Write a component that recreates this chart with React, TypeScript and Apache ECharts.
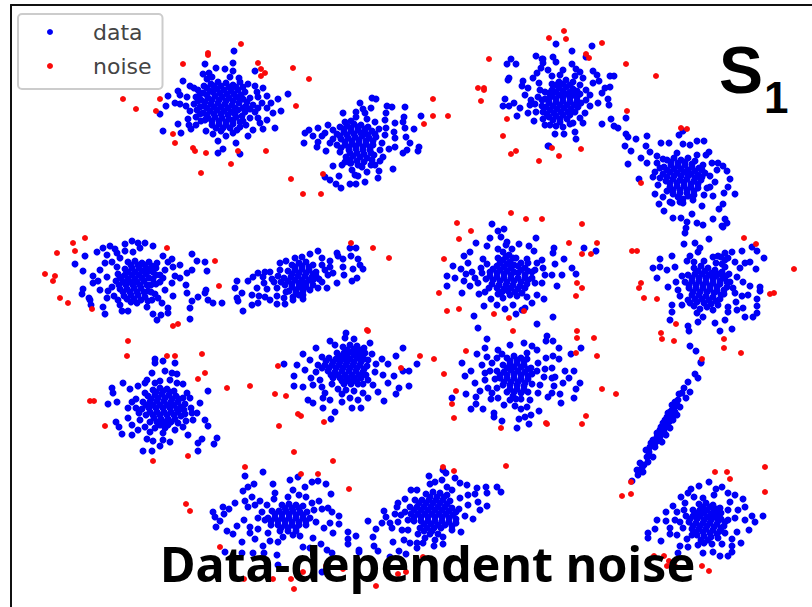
import React, { useEffect, useRef } from "react";
import * as echarts from "echarts";

type P = number[];

const clusterTopLeft: P[] = [[234,51],[233,63],[205,64],[216,68],[225,69],[233,71],[255,71],[203,74],[209,73],[239,78],[183,81],[207,79],[248,84],[255,86],[263,88],[190,86],[178,91],[168,96],[180,95],[187,97],[288,94],[278,99],[267,96],[258,97],[166,106],[175,103],[180,104],[160,114],[281,111],[273,113],[267,108],[178,124],[188,119],[163,131],[181,133],[191,129],[206,131],[213,134],[275,128],[263,129],[253,130],[248,136],[218,141],[236,143],[223,149],[218,153],[240,154],[226,136],[233,133],[260,123],[267,120],[250,118],
[198,90],[204,86],[211,84],[218,82],[226,83],[233,85],[240,82],[196,97],[203,93],[210,91],[217,89],[224,90],[231,91],[238,90],[245,92],[194,104],[201,100],[208,98],[215,96],[222,97],[229,98],[236,97],[243,99],[250,98],[197,110],[204,106],[211,104],[218,103],[225,104],[232,105],[239,103],[246,106],[253,105],[196,117],[203,113],[210,111],[217,110],[224,111],[231,112],[238,110],[245,112],[201,121],[208,118],[215,117],[222,118],[229,119],[236,117],[243,121],[212,125],[219,124],[226,125],[233,124],[240,127],[221,131]];
const fillTopLeft: P[] = [[207,88],[214,86],[221,86],[229,87],[236,87],[200,94],[207,95],[213,92],[220,93],[227,94],[234,94],[241,95],[198,101],[205,102],[212,100],[219,100],[226,101],[233,101],[240,100],[247,102],[200,107],[207,108],[214,107],[221,107],[228,108],[235,108],[243,108],[250,109],[200,114],[207,115],[214,114],[221,114],[228,115],[235,114],[242,116],[205,120],[212,121],[219,121],[226,122],[233,120],[240,122],[216,128],[223,128],[230,128],[237,130],[257,92],[262,103],[255,112],[258,118],[190,111],[186,106],[189,125],[196,125],[246,125],[258,108],[271,103],[243,87],[194,88],[212,77],[230,77]];

const clusterTopMid: P[] = [[360,103],[372,98],[376,99],[387,106],[392,107],[405,107],[363,109],[371,108],[356,112],[343,113],[386,113],[404,117],[421,116],[356,117],[345,122],[367,119],[375,122],[385,120],[403,122],[395,123],[328,125],[318,128],[309,130],[305,133],[414,129],[405,128],[394,132],[313,136],[325,133],[304,143],[318,142],[317,147],[326,151],[330,143],[340,152],[395,138],[385,135],[406,137],[410,143],[419,147],[418,151],[403,153],[407,150],[395,147],[389,149],[383,157],[380,161],[333,166],[342,165],[350,163],[393,169],[379,171],[367,172],[339,176],[355,175],[358,176],[378,178],[325,177],[330,180],[365,182],[336,184],[341,188],[350,184],[356,184],
[340,127],[347,126],[354,124],[361,125],[368,127],[337,134],[344,132],[351,131],[358,130],[365,132],[372,131],[379,129],[341,139],[348,138],[355,137],[362,136],[369,138],[376,137],[345,145],[352,144],[359,143],[366,144],[373,145],[349,150],[356,149],[363,150],[370,150],[346,157],[353,156],[360,157],[367,158],[374,155],[351,163],[358,165],[371,165]];
const fillTopMid: P[] = [[344,129],[351,128],[358,127],[365,129],[340,136],[347,135],[354,134],[361,133],[368,135],[375,134],[345,142],[352,141],[359,140],[366,141],[373,141],[349,147],[356,146],[363,147],[370,147],[350,153],[357,153],[364,154],[371,153],[350,160],[357,161],[364,162],[333,130],[337,145],[341,148],[382,143],[380,150],[345,162],[352,170],[362,167],[372,160],[333,139],[322,136],[375,165],[386,128],[365,113],[351,121]];

const clusterTopRight: P[] = [[536,56],[511,59],[542,59],[507,64],[516,64],[543,63],[541,68],[537,73],[533,78],[509,78],[508,80],[523,81],[522,86],[539,83],[528,88],[525,95],[505,99],[514,103],[503,106],[509,106],[520,108],[517,116],[528,113],[534,121],[548,146],[556,44],[592,46],[572,51],[586,57],[553,57],[543,59],[556,62],[572,64],[576,69],[593,71],[563,70],[580,72],[597,75],[610,76],[614,76],[552,76],[583,78],[599,81],[593,83],[610,87],[605,88],[602,93],[590,95],[608,99],[598,103],[609,105],[590,106],[585,113],[580,118],[573,123],[583,123],[545,125],[556,126],[563,127],[555,134],[564,134],[575,132],[576,139],[549,146],
[602,124],[611,119],[626,118],[614,126],[618,128],
[552,84],[559,82],[566,80],[573,82],[580,85],[545,92],[552,90],[559,88],[566,87],[573,89],[538,97],[545,99],[552,96],[559,95],[566,94],[573,95],[580,94],[535,104],[542,106],[549,103],[556,102],[563,101],[570,102],[577,101],[543,112],[550,110],[557,109],[564,108],[571,109],[578,107],[549,117],[556,116],[563,115],[570,115],[560,122]];
const fillTopRight: P[] = [[556,85],[563,84],[570,85],[549,93],[556,92],[563,91],[570,92],[577,91],[542,100],[549,99],[556,99],[563,97],[570,98],[577,97],[546,107],[553,106],[560,105],[567,105],[574,105],[581,103],[547,114],[554,113],[561,112],[568,112],[575,112],[553,120],[560,119],[567,119],[531,100],[586,90],[540,90],[530,105],[536,112],[575,76],[560,75],[586,100],[543,119],[550,125],[570,124],[548,70]];

const clusterRightUpper: P[] = [[626,134],[628,137],[636,139],[647,136],[625,146],[631,151],[628,164],[683,131],[679,135],[661,143],[669,143],[683,144],[690,145],[697,141],[704,141],[646,146],[650,152],[677,153],[657,156],[697,155],[709,152],[706,155],[641,158],[647,163],[657,163],[703,165],[718,163],[723,166],[727,171],[655,172],[717,170],[730,179],[715,182],[639,179],[653,177],[658,185],[728,187],[655,194],[663,197],[735,194],[724,193],[713,196],[707,188],[670,202],[680,202],[723,204],[659,204],[702,206],[719,209],[664,211],[692,214],[673,218],[681,218],[713,219],[725,219],[727,223],[687,222],[686,228],[697,223],[703,225],[723,227],[685,233],[722,226],[672,203],[683,203],
[667,160],[674,158],[681,160],[688,158],[695,161],[664,167],[671,165],[678,166],[685,165],[692,167],[699,168],[663,174],[670,172],[677,173],[684,172],[691,174],[698,175],[705,173],[666,181],[673,179],[680,180],[687,179],[694,181],[701,180],[670,187],[677,186],[684,186],[691,187],[698,188],[673,194],[680,193],[687,193],[694,195],[683,199],[693,200]];
const fillRightUpper: P[] = [[671,162],[678,163],[685,162],[692,164],[667,170],[674,169],[681,169],[688,170],[695,171],[702,170],[667,177],[674,176],[681,176],[688,176],[695,178],[702,177],[670,183],[677,183],[684,182],[691,184],[698,184],[673,190],[680,190],[687,190],[694,191],[678,197],[688,196],[660,178],[710,176],[663,159],[712,163],[704,195],[667,191],[710,187],[660,168]];

const clusterRightMid: P[] = [[684,244],[695,243],[709,239],[700,248],[698,252],[713,257],[672,256],[690,256],[687,261],[660,259],[653,268],[660,267],[667,270],[675,267],[657,278],[676,282],[668,287],[678,290],[732,252],[725,253],[742,251],[757,251],[752,247],[764,258],[750,262],[745,263],[725,260],[735,262],[756,269],[737,277],[750,286],[760,287],[760,291],[743,282],[757,299],[748,295],[757,306],[757,313],[745,317],[753,317],[672,305],[672,312],[670,320],[682,305],[688,300],[688,326],[689,331],[698,322],[703,317],[715,323],[720,331],[732,329],[725,320],[728,307],[737,310],[690,346],[696,351],[701,362],[743,308],[713,310],[697,313],
[721,257],[716,263],[725,267],[694,268],[701,266],[708,268],[715,270],[722,272],[729,274],[688,275],[695,274],[702,274],[709,275],[716,276],[723,278],[730,282],[685,282],[692,281],[699,281],[706,282],[713,283],[720,284],[727,287],[689,288],[696,288],[703,288],[710,289],[717,291],[724,294],[735,293],[692,295],[699,295],[706,296],[713,297],[720,299],[690,303],[697,302],[704,303],[711,304],[700,309],[718,305]];
const fillRightMid: P[] = [[698,271],[705,271],[712,273],[719,274],[726,276],[692,278],[699,278],[706,278],[713,279],[720,281],[727,282],[689,285],[696,285],[703,285],[710,286],[717,287],[724,290],[693,292],[700,292],[707,292],[714,293],[721,295],[695,299],[702,299],[709,300],[716,301],[694,306],[707,307],[722,264],[718,256],[728,258],[682,276],[680,296],[736,302],[742,296],[733,288],[740,268],[704,261],[694,262],[728,312]];

const clusterCenterUpper: P[] = [[492,224],[504,229],[498,231],[501,237],[490,238],[536,238],[507,242],[476,243],[487,246],[519,244],[529,246],[498,249],[554,248],[584,248],[596,251],[534,251],[470,252],[464,256],[553,253],[483,259],[498,258],[527,259],[564,259],[468,263],[487,264],[542,260],[555,264],[453,266],[461,269],[481,268],[543,268],[537,263],[572,268],[447,276],[455,278],[576,274],[552,275],[562,275],[464,281],[475,278],[478,283],[557,286],[447,286],[535,283],[489,288],[462,293],[479,294],[537,295],[491,299],[544,299],[527,297],[503,298],[513,305],[484,306],[525,308],[522,310],[474,316],[516,314],[553,317],[478,328],[537,324],
[503,252],[509,255],[503,260],[510,262],[516,258],[497,266],[504,267],[511,268],[518,266],[525,268],[490,272],[497,273],[504,274],[511,275],[518,273],[525,275],[532,272],[486,279],[493,280],[500,281],[507,282],[514,281],[521,282],[528,280],[497,288],[504,289],[511,288],[518,289],[525,288],[498,294],[510,295],[517,296]];
const fillCenterUpper: P[] = [[506,245],[512,249],[506,257],[513,258],[500,263],[507,264],[514,265],[521,263],[528,263],[493,269],[500,270],[507,271],[514,272],[521,270],[528,271],[535,270],[490,276],[497,277],[504,278],[511,278],[518,278],[525,278],[532,278],[482,273],[472,272],[466,274],[545,275],[492,284],[499,285],[506,285],[513,285],[520,286],[527,284],[502,292],[508,291],[515,292],[522,293],[470,286],[485,292],[532,303],[497,305],[505,309],[542,283]];

const clusterCenterLower: P[] = [[487,339],[547,336],[546,341],[553,341],[524,343],[485,348],[510,345],[532,346],[559,348],[581,348],[498,350],[537,350],[477,354],[502,354],[527,353],[571,354],[553,356],[546,358],[487,357],[492,363],[462,363],[559,359],[538,363],[552,368],[565,371],[574,371],[471,371],[485,373],[465,376],[544,377],[555,377],[475,383],[569,378],[580,383],[563,383],[488,388],[554,386],[576,389],[466,394],[476,397],[452,398],[538,393],[548,397],[574,398],[552,393],[491,399],[498,398],[476,404],[561,403],[471,409],[483,409],[521,409],[527,407],[539,411],[494,413],[531,415],[525,417],[519,419],[494,417],[502,421],[529,424],[517,428],[510,400],
[507,358],[514,356],[521,358],[503,365],[510,364],[517,363],[524,365],[531,368],[497,371],[504,372],[511,370],[518,371],[525,372],[532,374],[500,378],[507,378],[514,378],[521,379],[528,379],[503,385],[510,385],[517,385],[524,386],[532,384],[507,392],[514,392],[521,393],[528,392],[516,399]];
const fillCenterLower: P[] = [[510,361],[517,360],[524,361],[507,368],[514,367],[521,367],[528,369],[500,375],[507,375],[514,374],[521,375],[528,376],[504,382],[511,382],[518,382],[525,383],[510,389],[517,389],[524,390],[513,396],[521,399],[490,371],[495,379],[485,380],[492,393],[540,385],[545,369],[537,371],[497,358],[527,359],[482,365],[480,391],[530,400],[504,405],[515,406],[552,378],[560,394],[497,388]];

const clusterLeft: P[] = [[132,241],[125,244],[138,243],[145,243],[153,246],[110,246],[103,248],[97,252],[140,248],[85,256],[107,255],[117,253],[192,254],[172,259],[75,264],[120,258],[105,263],[197,261],[205,262],[157,263],[83,271],[100,270],[173,267],[207,271],[192,270],[187,273],[93,276],[107,277],[120,277],[180,278],[98,281],[93,283],[112,287],[83,289],[82,294],[186,285],[172,283],[187,293],[206,290],[205,293],[89,298],[90,300],[107,298],[173,296],[198,297],[192,301],[208,300],[213,303],[222,303],[103,307],[120,305],[168,308],[190,308],[105,314],[122,311],[128,311],[162,303],[153,314],[161,315],[168,313],[157,320],[190,319],[147,307],[137,303],[91,305],
[128,262],[135,261],[142,263],[149,262],[156,268],[125,269],[132,268],[139,268],[146,268],[153,272],[160,275],[118,274],[125,275],[132,275],[139,275],[146,274],[153,279],[160,282],[116,281],[123,282],[130,282],[137,282],[144,281],[151,285],[120,289],[127,289],[134,288],[141,288],[148,291],[155,294],[124,296],[131,295],[138,295],[145,297],[131,302],[152,300],[114,296],[165,290]];
const fillLeft: P[] = [[131,265],[138,265],[145,265],[152,266],[128,272],[135,272],[142,271],[149,271],[156,275],[163,278],[121,278],[128,279],[135,279],[142,278],[149,278],[156,284],[119,285],[126,285],[133,285],[140,285],[147,285],[123,292],[130,292],[137,292],[144,292],[151,292],[127,299],[134,299],[141,300],[148,301],[165,270],[168,262],[112,262],[117,267],[108,291],[118,300],[100,290],[175,276],[158,298],[125,251],[133,252],[115,249],[180,265],[163,256]];

const clusterStretched: P[] = [[356,248],[350,248],[318,251],[337,253],[351,256],[310,254],[338,256],[302,257],[322,258],[295,258],[358,259],[343,259],[286,261],[330,261],[280,263],[322,265],[343,267],[360,265],[363,269],[353,269],[330,267],[265,272],[270,272],[258,273],[253,277],[263,277],[248,281],[328,275],[357,278],[352,281],[337,283],[237,281],[235,288],[257,288],[267,289],[277,288],[327,288],[318,288],[242,293],[237,298],[238,301],[252,295],[265,297],[277,296],[252,305],[258,303],[243,311],[270,300],[277,304],[285,304],[293,300],[303,299],[303,291],[313,285],
[292,265],[299,263],[306,262],[313,265],[288,271],[295,270],[302,269],[309,270],[316,272],[284,278],[291,277],[298,276],[305,276],[312,277],[319,279],[285,285],[292,284],[299,283],[306,283],[313,280],[289,291],[296,290],[303,285],[310,290],[293,297],[299,295],[278,276],[274,282]];
const fillStretched: P[] = [[295,267],[302,266],[309,267],[292,274],[299,273],[306,273],[313,274],[288,281],[295,280],[302,280],[309,280],[316,276],[292,287],[299,287],[306,287],[296,293],[303,295],[281,282],[280,270],[272,279],[264,283],[286,292],[325,270],[333,273],[344,275],[322,282],[259,296],[284,298]];

const clusterMidLeft: P[] = [[155,359],[155,363],[163,361],[175,363],[152,373],[165,371],[172,373],[177,374],[123,383],[145,383],[138,386],[160,381],[177,383],[183,384],[112,388],[130,389],[113,393],[208,391],[187,393],[145,393],[117,402],[108,404],[132,402],[200,403],[190,398],[128,408],[197,413],[128,418],[116,422],[132,425],[119,427],[205,420],[208,426],[188,435],[122,434],[132,435],[138,430],[145,427],[217,438],[202,439],[198,443],[214,444],[147,439],[153,441],[163,440],[170,442],[160,446],[143,451],[152,451],[198,451],[175,430],[163,433],[193,420],
[153,390],[160,388],[167,389],[174,391],[148,396],[155,395],[162,394],[169,395],[176,396],[183,398],[143,402],[150,402],[157,401],[164,401],[171,402],[178,402],[185,404],[142,409],[149,408],[156,408],[163,408],[170,408],[177,409],[184,410],[146,415],[153,415],[160,415],[167,415],[174,415],[181,416],[150,422],[157,422],[164,422],[171,422],[178,423],[155,428],[165,428]];
const fillMidLeft: P[] = [[156,392],[163,391],[170,392],[151,399],[158,398],[165,398],[172,399],[179,399],[146,405],[153,405],[160,405],[167,405],[174,405],[181,407],[150,412],[157,412],[164,412],[171,412],[178,412],[185,414],[154,418],[161,419],[168,419],[175,419],[160,425],[168,425],[136,399],[139,413],[136,408],[191,408],[192,413],[186,421],[147,380],[155,383],[170,380],[140,420],[150,432],[183,427]];

const clusterMid: P[] = [[346,333],[345,338],[354,339],[330,341],[403,348],[370,343],[316,348],[335,345],[372,354],[396,356],[303,354],[284,364],[297,365],[382,359],[388,364],[417,364],[310,360],[403,371],[409,371],[394,376],[375,372],[294,376],[311,378],[383,375],[294,386],[409,386],[399,388],[388,383],[303,387],[313,385],[378,392],[396,394],[325,393],[308,400],[384,401],[368,398],[313,403],[323,398],[323,408],[342,402],[352,408],[361,408],[335,412],[331,419],[363,393],[350,398],[322,387],
[343,347],[350,345],[357,346],[364,348],[337,353],[344,353],[351,352],[358,352],[365,353],[322,357],[329,358],[336,359],[343,359],[350,359],[357,358],[364,359],[318,365],[325,365],[332,365],[339,365],[346,365],[353,365],[360,365],[367,366],[328,371],[335,372],[342,371],[349,371],[356,371],[363,372],[333,378],[340,378],[347,378],[354,378],[361,378],[344,384],[351,384],[358,384],[368,380]];
const fillMid: P[] = [[347,350],[354,349],[361,350],[340,356],[347,356],[354,355],[361,356],[326,361],[333,362],[340,362],[347,362],[354,362],[361,362],[368,360],[322,368],[329,368],[336,368],[343,368],[350,368],[357,368],[364,369],[331,375],[338,375],[345,375],[352,375],[359,375],[366,375],[342,381],[349,381],[356,381],[363,384],[338,389],[346,390],[354,391],[332,384],[373,385],[316,372],[305,370],[320,380],[376,364],[342,394],[330,400],[358,400]];

const clusterDiagonal: P[] = [[701,363],[695,374],[698,378],[688,382],[684,388],[690,392],[679,394],[686,398],[675,402],[680,407],[672,410],[677,415],[667,417],[673,420],[663,423],[670,428],[660,430],[666,435],[657,437],[662,442],[651,443],[646,450],[655,447],[653,457],[647,457],[640,463],[648,462],[637,470],[643,472],[638,475],[632,481],[670,418],[667,425],[664,432],[660,437],[675,412],[673,415],[658,433],[668,413]];
const fillDiagonal: P[] = [[672,405],[677,405],[674,408],[670,412],[665,420],[669,422],[661,427],[665,428],[657,433],[662,432],[653,440],[659,440],[650,447],[656,442],[649,452],[678,400],[682,393],[644,465],[642,468]];

const clusterBottomRight: P[] = [[709,482],[699,486],[691,489],[716,489],[722,487],[694,497],[688,493],[681,497],[728,493],[735,495],[743,499],[714,495],[703,498],[730,502],[745,507],[673,506],[666,512],[677,512],[738,510],[763,516],[752,516],[657,520],[666,521],[675,520],[755,522],[745,520],[655,529],[670,528],[749,530],[648,533],[670,534],[648,538],[677,535],[737,532],[661,541],[687,539],[732,539],[741,543],[680,546],[688,547],[698,545],[732,546],[678,553],[713,552],[703,553],[732,552],[720,556],[728,556],
[699,504],[706,503],[713,505],[720,508],[693,510],[700,510],[707,510],[714,511],[721,513],[686,516],[693,516],[700,516],[707,517],[714,517],[721,519],[728,520],[689,522],[696,523],[703,523],[710,523],[717,524],[724,526],[692,529],[699,529],[706,529],[713,530],[720,531],[697,535],[704,536],[711,537],[718,538],[704,543],[712,544],[683,528]];
const fillBottomRight: P[] = [[703,507],[710,507],[717,509],[697,513],[704,513],[711,514],[718,515],[690,519],[697,519],[704,520],[711,520],[718,521],[725,522],[693,526],[700,526],[707,526],[714,527],[721,528],[696,532],[703,532],[710,533],[717,534],[701,540],[708,540],[684,510],[680,522],[735,518],[728,510],[725,533],[692,535],[685,503],[722,544]];

const clusterBottomLeft: P[] = [[245,476],[263,472],[298,477],[318,481],[312,482],[326,484],[254,484],[248,487],[273,484],[305,487],[243,491],[293,490],[275,493],[331,494],[274,499],[288,497],[245,501],[319,501],[235,503],[260,501],[328,508],[223,507],[229,509],[213,512],[248,507],[224,514],[215,517],[322,509],[220,521],[339,516],[332,512],[244,520],[237,526],[216,527],[339,524],[330,523],[227,531],[250,527],[258,529],[233,534],[324,528],[333,533],[242,542],[250,533],[255,539],[348,532],[313,538],[270,541],[348,539],[348,544],[356,536],[263,546],[303,547],[321,544],[225,552],[242,553],[264,553],[327,550],[332,553],[253,553],[310,548],[359,550],[277,555],[278,565],[322,572],[293,535],[283,537],
[282,505],[289,504],[296,505],[303,506],[272,511],[279,511],[286,511],[293,511],[300,512],[307,512],[268,518],[275,518],[282,518],[289,518],[296,518],[303,518],[310,518],[271,525],[278,525],[285,525],[292,525],[299,525],[306,525],[280,531],[288,531],[296,531]];
const fillBottomLeft: P[] = [[285,508],[292,508],[299,508],[275,514],[282,514],[289,514],[296,515],[303,515],[271,521],[278,521],[285,521],[292,522],[299,522],[306,521],[281,528],[288,528],[296,528],[262,512],[255,505],[265,520],[258,518],[299,495],[306,497],[312,503],[316,522],[252,497],[267,505],[290,480],[278,542],[300,536],[268,533],[314,510]];

const clusterBottomMid: P[] = [[443,470],[446,473],[429,476],[435,482],[460,483],[467,485],[497,487],[477,488],[486,487],[447,487],[501,492],[452,490],[487,493],[475,494],[417,490],[460,498],[478,502],[405,499],[398,503],[487,506],[480,510],[397,507],[468,505],[384,511],[395,514],[386,517],[473,519],[465,516],[368,521],[382,523],[390,523],[376,529],[398,522],[392,528],[402,530],[461,532],[452,530],[373,537],[404,540],[443,537],[393,542],[374,546],[410,543],[417,543],[434,546],[443,544],[378,551],[359,552],[399,551],[390,557],[406,554],[417,548],[423,543],
[426,494],[433,492],[440,493],[447,495],[415,500],[422,500],[429,500],[436,500],[443,500],[450,501],[410,507],[417,507],[424,507],[431,507],[438,507],[445,507],[452,508],[459,509],[411,514],[418,514],[425,514],[432,514],[439,514],[446,514],[453,515],[414,521],[421,521],[428,521],[435,521],[442,521],[449,522],[456,523],[420,528],[427,528],[434,528],[441,528],[430,534],[438,534]];
const fillBottomMid: P[] = [[430,497],[437,497],[444,497],[419,503],[426,503],[433,503],[440,503],[447,504],[414,510],[421,510],[428,510],[435,510],[442,510],[449,511],[456,512],[414,517],[421,517],[428,517],[435,517],[442,517],[449,518],[456,519],[424,524],[431,524],[438,525],[445,525],[452,526],[424,531],[432,531],[405,512],[408,520],[401,515],[411,490],[430,484],[442,480],[468,495],[455,478],[408,530],[418,534],[435,540],[425,538]];

const dataPoints: P[] = [...clusterTopLeft, ...fillTopLeft, ...clusterTopMid, ...fillTopMid, ...clusterTopRight, ...fillTopRight, ...clusterRightUpper, ...fillRightUpper, ...clusterRightMid, ...fillRightMid, ...clusterCenterUpper, ...fillCenterUpper, ...clusterCenterLower, ...fillCenterLower, ...clusterLeft, ...fillLeft, ...clusterStretched, ...fillStretched, ...clusterMidLeft, ...fillMidLeft, ...clusterMid, ...fillMid, ...clusterDiagonal, ...fillDiagonal, ...clusterBottomRight, ...fillBottomRight, ...clusterBottomLeft, ...fillBottomLeft, ...clusterBottomMid, ...fillBottomMid];

const noisePoints: P[] = [[241,44],[208,53],[208,55],[183,64],[258,63],[261,69],[265,73],[261,76],[293,68],[123,99],[136,109],[160,99],[156,111],[296,106],[173,134],[175,143],[193,148],[195,151],[206,153],[238,151],[266,151],[231,164],[201,173],[291,179],
[309,79],[433,99],[433,116],[448,116],[424,124],[323,174],[303,194],[321,194],
[489,59],[478,88],[484,88],[484,90],[481,101],[507,119],[503,136],[516,151],[511,154],[539,161],[564,31],[549,38],[566,39],[602,43],[586,54],[589,58],[626,64],[656,76],[627,111],[552,148],[559,156],[581,149],
[681,128],[687,129],[641,183],
[744,238],[756,244],[794,269],[770,294],[774,293],[632,251],[637,251],[641,283],[639,288],[644,298],[657,299],[676,324],[661,333],[662,339],[674,341],[724,339],[724,348],[741,353],[702,359],
[511,213],[526,219],[542,219],[457,223],[471,231],[582,224],[459,239],[569,243],[597,243],[582,254],[591,254],[444,259],[577,283],[582,288],[439,293],[576,296],[447,311],[459,309],[494,314],[509,318],[524,311],
[513,331],[577,331],[577,338],[594,338],[466,351],[576,353],[597,356],[434,359],[444,374],[456,391],[602,389],[616,394],[452,404],[454,418],[586,416],[582,424],[546,423],[547,424],[501,428],
[85,238],[73,243],[57,253],[75,251],[45,274],[55,276],[53,281],[60,298],[68,303],[92,309],[167,248],[215,261],[219,286],[173,326],[178,324],
[351,243],[373,248],[389,258],
[128,341],[127,356],[167,356],[175,356],[202,354],[205,373],[198,379],[227,388],[250,386],[90,401],[94,401],[105,426],[188,456],[153,461],
[367,330],[368,331],[420,356],[401,368],[278,366],[275,394],[286,396],[298,414],[301,416],[324,422],[279,426],[294,452],[333,461],
[631,482],[622,496],[631,494],[715,472],[727,472],[730,479],[765,467],[765,492],[654,556],[664,556],[669,561],[667,566],[676,567],[702,566],[709,571],
[245,467],[301,474],[318,474],[349,489],[186,504],[190,511],[220,547],[244,579],[273,579],[291,579],[294,589],[303,572],[326,566],[343,569],[376,586],[398,574],[423,557],[406,572],[443,467],[454,471],[506,466]];

const seriesNames = ["data", "noise"];
const captionBottom = "Data-dependent noise";
const captionCornerMain = "S";
const captionCornerSub = "1";

export default function App() {
  const ref = useRef<HTMLDivElement>(null);
  useEffect(() => {
    const chart = echarts.init(ref.current!, undefined, { renderer: "svg" });
    const hidden = { axisTick: { show: false }, axisLabel: { show: false }, splitLine: { show: false } };
    const spine = { show: true, onZero: false, lineStyle: { color: "#111", width: 2 } };
    chart.setOption({
      animation: false,
      backgroundColor: "#fff",
      grid: { left: 11, top: 5, right: 0, bottom: 0 },
      xAxis: { type: "value", position: "top", min: 11, max: 812, axisLine: spine, ...hidden },
      yAxis: { type: "value", inverse: true, min: 5, max: 607, axisLine: spine, ...hidden },
      legend: {
        left: 18,
        top: 14,
        orient: "vertical",
        padding: [7, 11, 12, 29],
        itemWidth: 6,
        itemHeight: 6,
        itemGap: 12,
        icon: "circle",
        borderColor: "#ccc",
        borderWidth: 2,
        borderRadius: 4,
        data: seriesNames,
        textStyle: { fontFamily: "DejaVu Sans", fontSize: 22, color: "#444", padding: [0, 0, 0, 35] },
      },
      series: [
        { name: seriesNames[0], type: "scatter", data: dataPoints, symbolSize: 7, itemStyle: { color: "#0000f5", opacity: 1 }, z: 2, large: false },
        { name: seriesNames[1], type: "scatter", data: noisePoints, symbolSize: 6, itemStyle: { color: "#fa0a0a", opacity: 1 }, z: 3, large: false },
      ],
      graphic: [
        { type: "text", x: 719, y: 37, z: 100, style: { text: captionCornerMain, fontFamily: "Liberation Sans", fontWeight: "bold", fontSize: 66, fill: "#000" } },
        { type: "text", x: 764, y: 75, z: 100, style: { text: captionCornerSub, fontFamily: "Liberation Sans", fontWeight: "bold", fontSize: 44, fill: "#000" } },
        { type: "text", x: 160, y: 538, z: 100, style: { text: captionBottom, fontFamily: "Noto Sans", fontWeight: "bold", fontSize: 48.5, fill: "#000" } },
      ],
    });
    return () => chart.dispose();
  }, []);
  return <div ref={ref} style={{ position: "fixed", left: 0, top: 0, width: 812, height: 607 }} />;
}
